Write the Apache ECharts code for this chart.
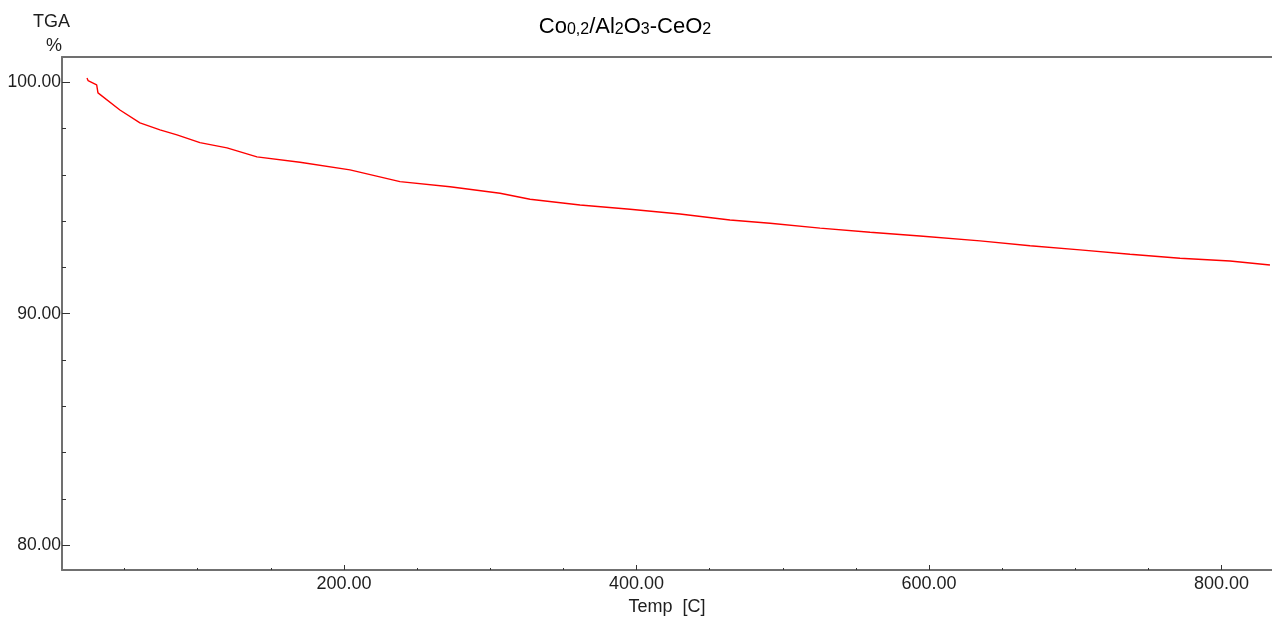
<!DOCTYPE html>
<html>
<head>
<meta charset="utf-8">
<script src="https://cdn.jsdelivr.net/npm/echarts@6/dist/echarts.min.js"></script>
<style>
  html, body { margin: 0; padding: 0; background: #fff; }
  #chart { width: 1272px; height: 618px; }
</style>
</head>
<body>
<div id="chart"></div>
<script>
// ─── Data ─────────────────────────────────────────────────────────────────
const temps = [24.3, 25.0, 30.9, 31.8, 46.8, 60.5, 74.2, 85.8, 101.5, 120.0,
  140.5, 169.9, 204.1, 238.3, 272.5, 306.7, 327.2, 361.4, 395.6, 429.7,
  463.9, 491.3, 525.5, 559.7, 593.8, 634.9, 669.1, 703.2, 737.4, 771.6,
  805.8, 833.1];
const tga = [100.19, 100.08, 99.89, 99.55, 98.81, 98.25, 97.95, 97.73, 97.40, 97.17,
  96.78, 96.55, 96.22, 95.71, 95.49, 95.21, 94.95, 94.70, 94.52, 94.31,
  94.05, 93.91, 93.70, 93.52, 93.36, 93.15, 92.94, 92.76, 92.57, 92.40,
  92.28, 92.11];

const xMajor = [200, 400, 600, 800];
const xMinor = [50, 100, 150, 250, 300, 350, 450, 500, 550, 650, 700, 750];
const yMajor = [80, 90, 100];
const yMinor = [82, 84, 86, 88, 92, 94, 96, 98];

const X_MIN = 7.2, X_MAX = 834.5;
const Y_MIN = 78.92, Y_MAX = 101.10;

const FONT = 'Liberation Sans, Arial, sans-serif';
const AXIS_COLOR = '#707070';
const TEXT_COLOR = '#1e1e1e';

// ─── Chart ────────────────────────────────────────────────────────────────
const chart = echarts.init(document.getElementById('chart'));

const baseX = {
  type: 'value', min: X_MIN, max: X_MAX,
  splitLine: { show: false },
  axisLabel: { show: false },
  axisTick: { show: false },
  axisLine: { show: false }
};
const baseY = {
  type: 'value', min: Y_MIN, max: Y_MAX,
  splitLine: { show: false },
  axisLabel: { show: false },
  axisTick: { show: false },
  axisLine: { show: false }
};

chart.setOption({
  animation: false,
  textStyle: { fontFamily: FONT },
  title: {
    text: '{b|Co}{s|0,2}{b|/Al}{s|2}{b|O}{s|3}{b|-CeO}{s|2}',
    left: 620, top: 9,
    textAlign: 'center',
    textStyle: {
      fontWeight: 'normal',
      rich: {
        b: { fontSize: 22, fontWeight: 'normal', color: '#000', fontFamily: FONT, verticalAlign: 'bottom', lineHeight: 24 },
        s: { fontSize: 16, fontWeight: 'normal', color: '#000', fontFamily: FONT, verticalAlign: 'bottom', lineHeight: 22 }
      }
    }
  },
  graphic: [
    { type: 'text', left: 33, top: 13, style: { text: 'TGA', font: '18px ' + FONT, fill: TEXT_COLOR } },
    { type: 'text', left: 46, top: 37, style: { text: '%', font: '18px ' + FONT, fill: TEXT_COLOR } }
  ],
  grid: { left: 62, right: 0, top: 57, bottom: 48, containLabel: false, outerBoundsMode: 'none' },
  xAxis: [
    Object.assign({}, baseX, {
      position: 'bottom',
      axisLine: { show: true, lineStyle: { color: AXIS_COLOR, width: 2 } },
      axisTick: { show: true, inside: true, length: 5, customValues: xMajor, lineStyle: { color: '#333', width: 1 } },
      axisLabel: {
        show: true, customValues: xMajor, margin: 5,
        fontSize: 18, color: TEXT_COLOR, fontFamily: FONT,
        formatter: v => v.toFixed(2)
      },
      name: 'Temp  [C]', nameLocation: 'middle', nameGap: 28,
      nameTextStyle: { fontSize: 18, color: TEXT_COLOR, fontFamily: FONT }
    }),
    Object.assign({}, baseX, {
      position: 'bottom',
      axisTick: { show: true, inside: true, length: 2, customValues: xMinor, lineStyle: { color: '#333', width: 1 } }
    }),
    Object.assign({}, baseX, {
      position: 'top',
      axisLine: { show: true, lineStyle: { color: AXIS_COLOR, width: 2 } }
    })
  ],
  yAxis: [
    Object.assign({}, baseY, {
      position: 'left',
      axisLine: { show: true, lineStyle: { color: AXIS_COLOR, width: 2 } },
      axisTick: { show: true, inside: true, length: 8, customValues: yMajor, lineStyle: { color: '#333', width: 1 } },
      axisLabel: {
        show: true, customValues: yMajor, margin: 1,
        fontSize: 17.5, color: TEXT_COLOR, fontFamily: FONT,
        formatter: v => v.toFixed(2)
      }
    }),
    Object.assign({}, baseY, {
      position: 'left',
      axisTick: { show: true, inside: true, length: 4, customValues: yMinor, lineStyle: { color: '#333', width: 1 } }
    })
  ],
  series: [{
    type: 'line',
    xAxisIndex: 0, yAxisIndex: 0,
    data: temps.map((t, i) => [t, tga[i]]),
    showSymbol: false,
    smooth: false,
    lineStyle: { color: '#ff0000', width: 1.4 }
  }]
});
</script>
</body>
</html>
